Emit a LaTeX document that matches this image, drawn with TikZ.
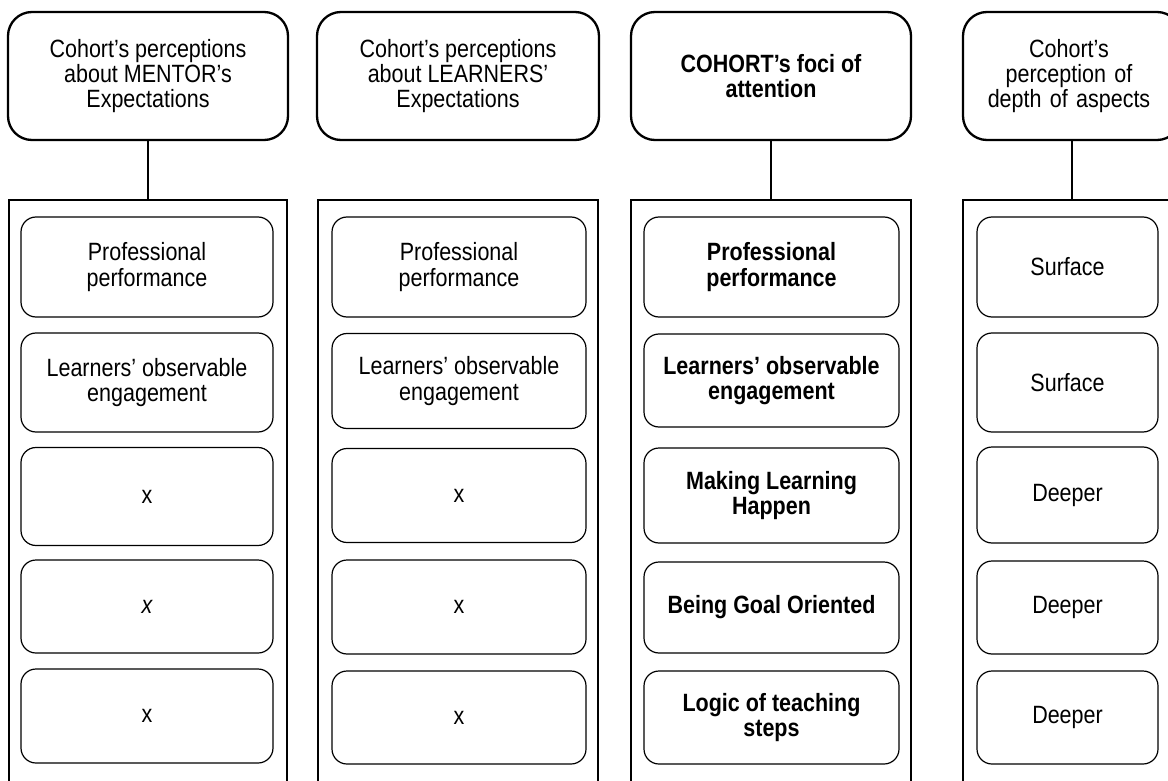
\documentclass[tikz,border=0pt]{standalone}
\usepackage{fontspec}
\setmainfont{Liberation Sans}[FakeStretch=0.86]
\begin{document}
\begin{tikzpicture}[x=1pt,y=-1pt,
  head/.style={draw, line width=2.3pt, rounded corners=24pt, align=center, inner sep=0pt, minimum height=128pt},
  colframe/.style={draw, line width=1.8pt, inner sep=0pt, minimum height=620pt, anchor=north},
  item/.style={draw, line width=1.2pt, rounded corners=15pt, align=center, inner sep=0pt},
  link/.style={draw, line width=1.2pt},
  every node/.append style={font=\fontsize{25}{25.3}\selectfont}
]
\useasboundingbox (0,0) rectangle (1168,781);
\clip (0,0) rectangle (1168,781);

% column 1
\node[head, minimum width=280pt] (h1) at (148,76) {Cohort’s perceptions\\about MENTOR’s\\Expectations};
\node[colframe, minimum width=278pt] (f1) at (148,199) {};
\draw[link] (h1.south) -- (f1.north);
\node[item, minimum width=252pt, minimum height=100pt] (a1) at (147,267) {Professional\\performance};
\node[item, minimum width=252pt, minimum height=99pt] (a2) at (147,382.5) {Learners’ observable\\engagement};
\node[item, minimum width=252pt, minimum height=98pt] (a3) at (147,496.5) {x};
\node[item, minimum width=252pt, minimum height=93pt] (a4) at (147,606.5) {\itshape x};
\node[item, minimum width=252pt, minimum height=94pt] (a5) at (147,716) {x};

% column 2
\node[head, minimum width=282pt] (h2) at (458,76) {Cohort’s perceptions\\about LEARNERS’\\Expectations};
\node[colframe, minimum width=280pt] (f2) at (458,199) {};
\node[item, minimum width=254pt, minimum height=100pt] (b1) at (459,267) {Professional\\performance};
\node[item, minimum width=254pt, minimum height=95pt] (b2) at (459,381) {Learners’ observable\\engagement};
\node[item, minimum width=254pt, minimum height=94pt] (b3) at (459,495.5) {x};
\node[item, minimum width=254pt, minimum height=94pt] (b4) at (459,607) {x};
\node[item, minimum width=254pt, minimum height=93pt] (b5) at (459,717.5) {x};

% column 3
\node[head, minimum width=280pt] (h3) at (771,76) {\bfseries COHORT’s foci of\\\bfseries attention};
\node[colframe, minimum width=280pt] (f3) at (771,199) {};
\draw[link] (h3.south) -- (f3.north);
\node[item, minimum width=255pt, minimum height=100pt] (c1) at (771.5,267) {\bfseries Professional\\\bfseries performance};
\node[item, minimum width=255pt, minimum height=93pt] (c2) at (771.5,380.5) {\bfseries Learners’ observable\\\bfseries engagement};
\node[item, minimum width=255pt, minimum height=95pt] (c3) at (771.5,495.5) {\bfseries Making Learning\\\bfseries Happen};
\node[item, minimum width=255pt, minimum height=91pt] (c4) at (771.5,607.5) {\bfseries Being Goal Oriented};
\node[item, minimum width=255pt, minimum height=93pt] (c5) at (771.5,717.5) {\bfseries Logic of teaching\\\bfseries steps};

% column 4
\node[head, minimum width=218pt, text width=200pt] (h4) at (1072,76) {\hspace*{-6pt}Cohort’s\\\hspace*{-6pt}perception of\\\hspace*{-6pt}depth of aspects};
\node[colframe, minimum width=218pt] (f4) at (1072,199) {};
\draw[link] (h4.south) -- (f4.north);
\node[item, minimum width=181pt, minimum height=100pt] (d1) at (1067.5,267) {Surface};
\node[item, minimum width=181pt, minimum height=99pt] (d2) at (1067.5,382.5) {Surface};
\node[item, minimum width=181pt, minimum height=96pt] (d3) at (1067.5,495) {Deeper};
\node[item, minimum width=181pt, minimum height=93pt] (d4) at (1067.5,607.5) {Deeper};
\node[item, minimum width=181pt, minimum height=93pt] (d5) at (1067.5,717.5) {Deeper};
\end{tikzpicture}
\end{document}
